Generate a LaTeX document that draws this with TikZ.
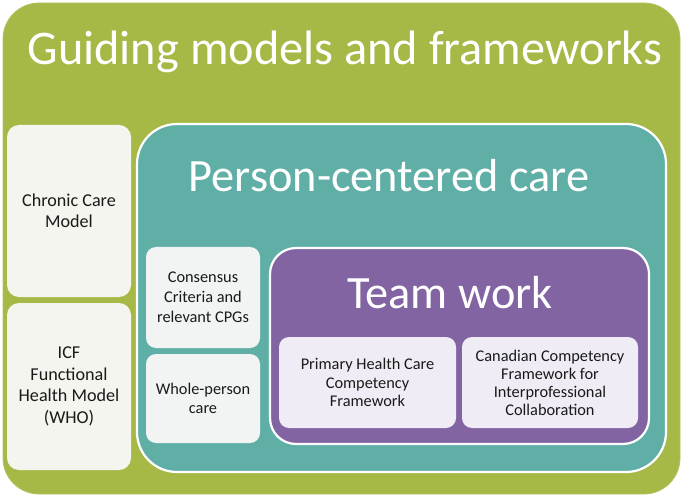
\documentclass[tikz,border=0pt]{standalone}
\usepackage{fontspec}
\setmainfont{Carlito}
\definecolor{cgreen}{HTML}{A6B946}
\definecolor{cteal}{HTML}{60AFA7}
\definecolor{cpurple}{HTML}{8264A3}
\definecolor{cleftbox}{HTML}{F4F5EE}
\definecolor{ctealbox}{HTML}{F1F4F3}
\definecolor{cpurpbox}{HTML}{F0ECF5}
\definecolor{ctext}{HTML}{1A1A1A}
\tikzset{
  panel/.style={anchor=north west, inner sep=0pt, outer sep=0pt},
  card/.style={panel, align=center, text=ctext},
  bigtitle/.style={text=white, inner sep=0pt, font=\fontsize{46.5}{50}\selectfont},
}
\begin{document}
\begin{tikzpicture}[x=1bp,y=-1bp]
\useasboundingbox (0,0) rectangle (683,498);
% outer green panel
\node[panel, fill=cgreen, draw=cgreen!85!white, line width=0.8bp, rounded corners=36bp,
      minimum width=677bp, minimum height=491bp] (outer) at (3,3) {};
\node[bigtitle, font=\fontsize{48.5}{52}\selectfont] (title) at (345,52) {Guiding models and frameworks};
% left cards
\node[card, fill=cleftbox, rounded corners=12bp, minimum width=124bp, minimum height=172bp,
      font=\fontsize{18.2}{21}\selectfont] (ccm) at (7,125) {Chronic Care\\Model};
\node[card, fill=cleftbox, rounded corners=12bp, minimum width=124bp, minimum height=167bp,
      font=\fontsize{18.2}{21.5}\selectfont] (icf) at (7,303) {ICF\\Functional\\Health Model\\(WHO)};
% teal panel
\node[panel, fill=cteal, draw=white, line width=2.2bp, rounded corners=40bp,
      minimum width=529bp, minimum height=348bp] (teal) at (137,124) {};
\node[bigtitle] (pcc) at (389,176) {Person-centered care};
\node[card, fill=ctealbox, rounded corners=10bp, minimum width=114bp, minimum height=101bp,
      font=\fontsize{16.4}{20}\selectfont] (cons) at (146,247) {Consensus\\Criteria and\\relevant CPGs};
\node[card, fill=ctealbox, rounded corners=10bp, minimum width=114bp, minimum height=89bp,
      font=\fontsize{16.4}{19}\selectfont] (whole) at (146,354) {Whole-person\\care};
% purple panel
\node[panel, fill=cpurple, draw=white, line width=2.2bp, rounded corners=26bp,
      minimum width=379bp, minimum height=196bp] (purple) at (270,248) {};
\node[bigtitle] (team) at (450,293) {Team work};
\node[card, fill=cpurpbox, rounded corners=10bp, minimum width=177bp, minimum height=91bp,
      font=\fontsize{16.4}{18.5}\selectfont] (phc) at (279,337) {Primary Health Care\\Competency\\Framework};
\node[card, fill=cpurpbox, rounded corners=10bp, minimum width=176bp, minimum height=91bp,
      font=\fontsize{16.4}{18}\selectfont] (ccf) at (462,337) {Canadian Competency\\Framework for\\Interprofessional\\Collaboration};
\end{tikzpicture}
\end{document}
